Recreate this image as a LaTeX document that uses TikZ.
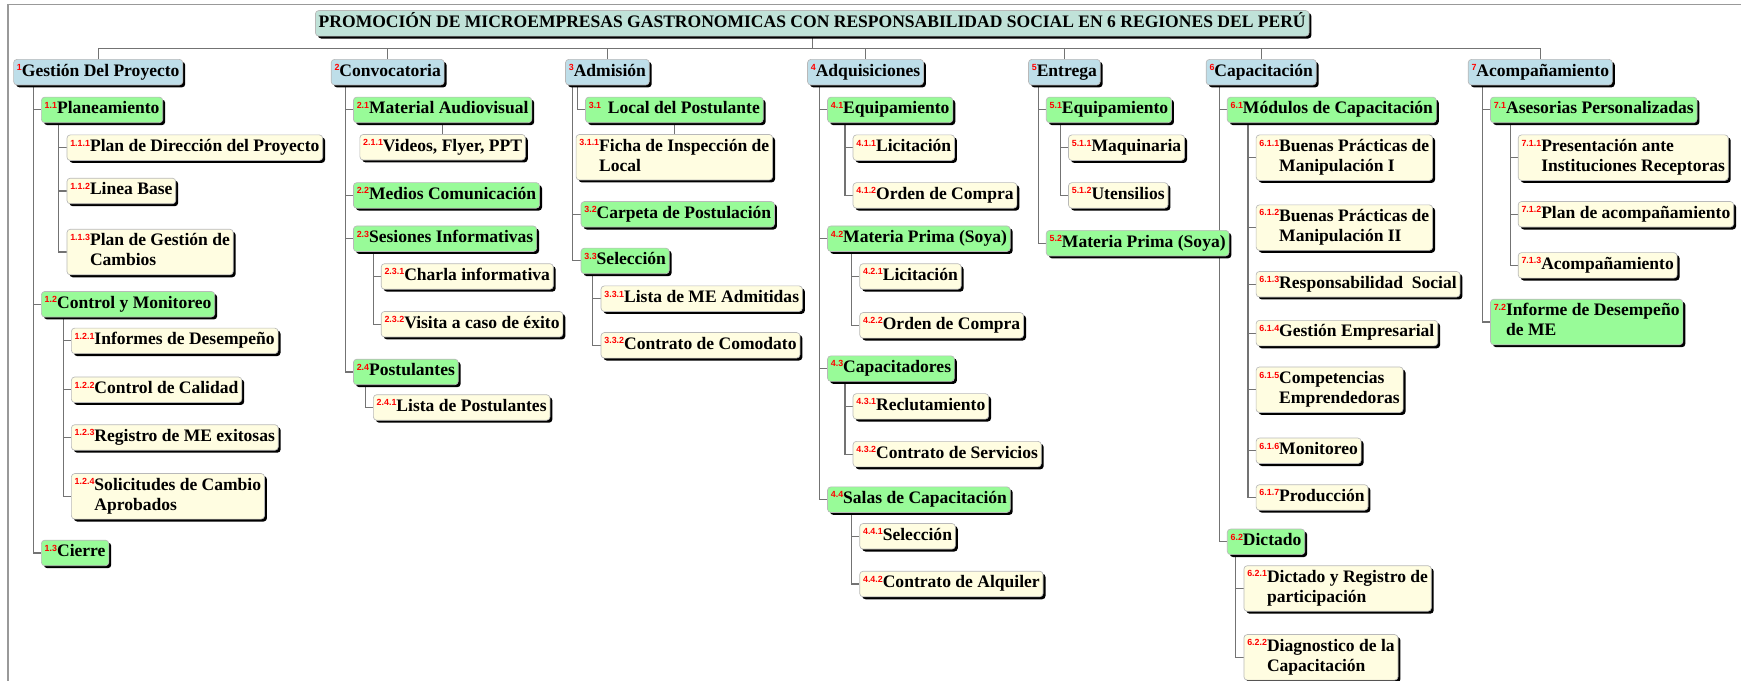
\documentclass[tikz,border=0pt]{standalone}
\usepackage{fontspec}
\setmainfont{Liberation Serif}
\setsansfont{Liberation Sans}
\usetikzlibrary{positioning,shadows,backgrounds}
\definecolor{tituloC}{RGB}{192,226,216}
\definecolor{faseC}{RGB}{190,222,233}
\definecolor{entC}{RGB}{152,251,152}
\definecolor{paqC}{RGB}{255,253,225}
\definecolor{lineaC}{RGB}{115,115,115}
\newcommand\wbs[1]{\raisebox{5pt}{\textcolor{red}{\sffamily\bfseries\fontsize{8}{8}\selectfont#1}}}
\tikzset{caja/.style={draw=gray!55,line width=.6pt,rounded corners=3pt,anchor=west,inner xsep=3pt,inner ysep=4pt,
  text height=11pt,text depth=4pt,font=\fontsize{15.8}{18}\selectfont\bfseries,
  drop shadow={shadow xshift=2.2pt,shadow yshift=-2.2pt,opacity=1,fill=black}},
  fase/.style={caja,fill=faseC},ent/.style={caja,fill=entC},paq/.style={caja,fill=paqC},
  dos/.style={text depth=22pt},rama/.style={draw=lineaC,line width=1pt}}

\begin{document}
\begin{tikzpicture}[x=1pt,y=-1pt]
\useasboundingbox (0,-2) rectangle (1568,611);
\draw[gray!80,line width=1.5pt] (7,611)--(7,2)--(1568,2);
\node[caja,fill=tituloC,anchor=center] (tit) at (731.5,19){PROMOCIÓN DE MICROEMPRESAS GASTRONOMICAS CON RESPONSABILIDAD SOCIAL EN 6 REGIONES DEL PERÚ};
% fases
\node[fase] (f1) at (12,63){\wbs{1}Gestión Del Proyecto};
\node[fase] (f2) at (298,63){\wbs{2}Convocatoria};
\node[fase] (f3) at (509,63){\wbs{3}Admisión};
\node[fase] (f4) at (727,63){\wbs{4}Adquisiciones};
\node[fase] (f5) at (926,63){\wbs{5}Entrega};
\node[fase] (f6) at (1086,63){\wbs{6}Capacitación};
\node[fase] (f7) at (1322,63){\wbs{7}Acompañamiento};
% 1
\node[ent] (e11) at (37,97){\wbs{1.1}Planeamiento};
\node[paq] (p111) at (60,131){\wbs{1.1.1}Plan de Dirección del Proyecto};
\node[paq] (p112) at (60,170){\wbs{1.1.2}Linea Base};
\node[paq,dos] (p113) at (60,225){\wbs{1.1.3}\begin{tabular}[t]{@{}l@{}}Plan de Gestión de\\Cambios\end{tabular}};
\node[ent] (e12) at (37,272){\wbs{1.2}Control y Monitoreo};
\node[paq] (p121) at (64,305){\wbs{1.2.1}Informes de Desempeño};
\node[paq] (p122) at (64,349){\wbs{1.2.2}Control de Calidad};
\node[paq] (p123) at (64,392){\wbs{1.2.3}Registro de ME exitosas};
\node[paq,dos] (p124) at (64,445){\wbs{1.2.4}\begin{tabular}[t]{@{}l@{}}Solicitudes de Cambio\\Aprobados\end{tabular}};
\node[ent] (e13) at (37,496){\wbs{1.3}Cierre};
% 2
\node[ent] (e21) at (318,97){\wbs{2.1}Material Audiovisual};
\node[paq,below=10pt of e21] (p211){\wbs{2.1.1}Videos, Flyer, PPT};
\node[ent] (e22) at (318,174){\wbs{2.2}Medios Comunicación};
\node[ent] (e23) at (318,213){\wbs{2.3}Sesiones Informativas};
\node[paq] (p231) at (343,247){\wbs{2.3.1}Charla informativa};
\node[paq] (p232) at (343,290){\wbs{2.3.2}Visita a caso de éxito};
\node[ent] (e24) at (318,333){\wbs{2.4}Postulantes};
\node[paq] (p241) at (336,365){\wbs{2.4.1}Lista de Postulantes};
% 3
\node[ent] (e31) at (527,97){\wbs{3.1}\hspace{6pt}Local del Postulante};
\node[paq,dos,below=10pt of e31] (p311){\wbs{3.1.1}\begin{tabular}[t]{@{}l@{}}Ficha de Inspección de\\Local\end{tabular}};
\node[ent] (e32) at (523,191){\wbs{3.2}Carpeta de Postulación};
\node[ent] (e33) at (523,233){\wbs{3.3}Selección};
\node[paq] (p331) at (541,267){\wbs{3.3.1}Lista de ME Admitidas};
\node[paq] (p332) at (541,309){\wbs{3.3.2}Contrato de Comodato};
% 4
\node[ent] (e41) at (745,97){\wbs{4.1}Equipamiento};
\node[paq] (p411) at (768,131){\wbs{4.1.1}Licitación};
\node[paq] (p412) at (768,174){\wbs{4.1.2}Orden de Compra};
\node[ent] (e42) at (745,213){\wbs{4.2}Materia Prima (Soya)};
\node[paq] (p421) at (774,247){\wbs{4.2.1}Licitación};
\node[paq] (p422) at (774,291){\wbs{4.2.2}Orden de Compra};
\node[ent] (e43) at (745,330){\wbs{4.3}Capacitadores};
\node[paq] (p431) at (768,364){\wbs{4.3.1}Reclutamiento};
\node[paq] (p432) at (768,407){\wbs{4.3.2}Contrato de Servicios};
\node[ent] (e44) at (745,448){\wbs{4.4}Salas de Capacitación};
\node[paq] (p441) at (774,481){\wbs{4.4.1}Selección};
\node[paq] (p442) at (774,524){\wbs{4.4.2}Contrato de Alquiler};
% 5
\node[ent] (e51) at (942,97){\wbs{5.1}Equipamiento};
\node[paq] (p511) at (962,131){\wbs{5.1.1}Maquinaria};
\node[paq] (p512) at (962,174){\wbs{5.1.2}Utensilios};
\node[ent] (e52) at (942,217){\wbs{5.2}Materia Prima (Soya)};
% 6
\node[ent] (e61) at (1105,97){\wbs{6.1}Módulos de Capacitación};
\node[paq,dos] (p611) at (1131,140){\wbs{6.1.1}\begin{tabular}[t]{@{}l@{}}Buenas Prácticas de\\Manipulación I\end{tabular}};
\node[paq,dos] (p612) at (1131,203){\wbs{6.1.2}\begin{tabular}[t]{@{}l@{}}Buenas Prácticas de\\Manipulación II\end{tabular}};
\node[paq] (p613) at (1131,254){\wbs{6.1.3}Responsabilidad\ \ Social};
\node[paq] (p614) at (1131,298){\wbs{6.1.4}Gestión Empresarial};
\node[paq,dos] (p615) at (1131,349){\wbs{6.1.5}\begin{tabular}[t]{@{}l@{}}Competencias\\Emprendedoras\end{tabular}};
\node[paq] (p616) at (1131,404){\wbs{6.1.6}Monitoreo};
\node[paq] (p617) at (1131,446){\wbs{6.1.7}Producción};
\node[ent] (e62) at (1105,486){\wbs{6.2}Dictado};
\node[paq,dos] (p621) at (1120,528){\wbs{6.2.1}\begin{tabular}[t]{@{}l@{}}Dictado y Registro de\\participación\end{tabular}};
\node[paq,dos] (p622) at (1120,590){\wbs{6.2.2}\begin{tabular}[t]{@{}l@{}}Diagnostico de la\\Capacitación\end{tabular}};
% 7
\node[ent] (e71) at (1342,97){\wbs{7.1}Asesorias Personalizadas};
\node[paq,dos] (p711) at (1367,140){\wbs{7.1.1}\begin{tabular}[t]{@{}l@{}}Presentación ante\\Instituciones Receptoras\end{tabular}};
\node[paq] (p712) at (1367,191){\wbs{7.1.2}Plan de acompañamiento};
\node[paq] (p713) at (1367,237){\wbs{7.1.3}Acompañamiento};
\node[ent,dos] (e72) at (1342,288){\wbs{7.2}\begin{tabular}[t]{@{}l@{}}Informe de Desempeño\\de ME\end{tabular}};
% ramas
\begin{scope}[on background layer]
\coordinate (barra) at (0,42);
\draw[rama] (tit.south)--(tit.south |- barra);
\draw[rama] (f1.north) |- (barra -| f7.north)--(f7.north);
\foreach \f in {f2,f3,f4,f5,f6}
  \draw[rama] (\f.north)--(\f.north |- barra);
\foreach \p/\c in {f1/e11,f1/e12,f1/e13,e11/p111,e11/p112,e11/p113,e12/p121,e12/p122,e12/p123,e12/p124,
  f2/e21,f2/e22,f2/e23,f2/e24,e23/p231,e23/p232,e24/p241,f3/e31,f3/e32,f3/e33,e33/p331,e33/p332,
  f4/e41,f4/e42,f4/e43,f4/e44,e41/p411,e41/p412,e42/p421,e42/p422,e43/p431,e43/p432,e44/p441,e44/p442,
  f5/e51,f5/e52,e51/p511,e51/p512,f6/e61,f6/e62,e61/p611,e61/p612,e61/p613,e61/p614,e61/p615,e61/p616,e61/p617,
  e62/p621,e62/p622,f7/e71,f7/e72,e71/p711,e71/p712,e71/p713}
  \draw[rama] (\p.south -| \c.west) ++(-7,0) |- (\c.west);
\draw[rama] (e21.south)--(p211.north);
\draw[rama] (e31.south)--(p311.north);
\end{scope}
\end{tikzpicture}
\end{document}
